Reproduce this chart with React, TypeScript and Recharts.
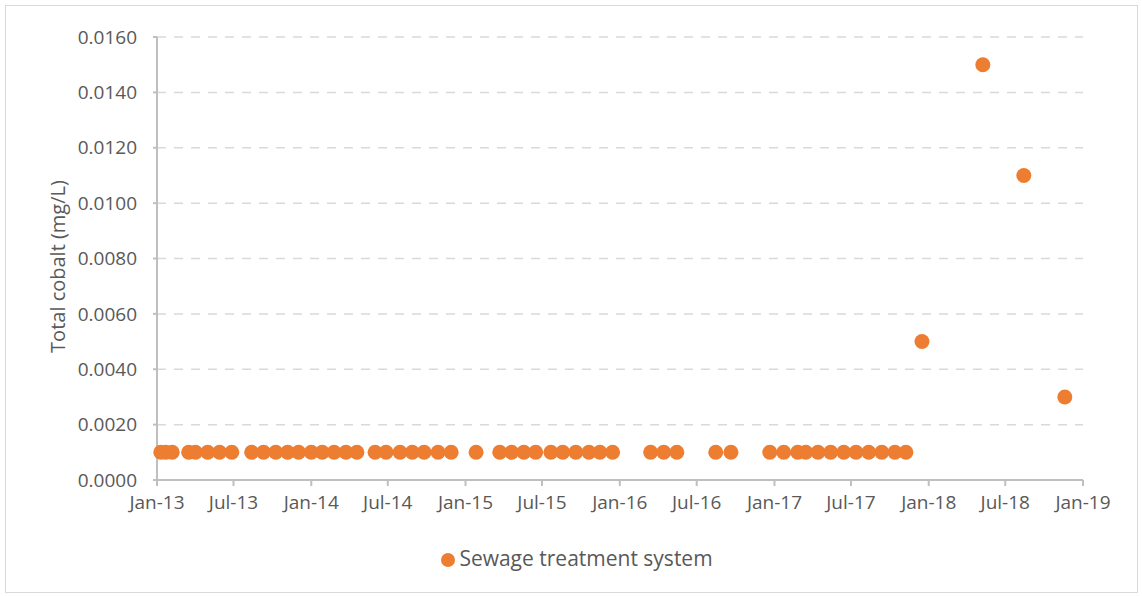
import React from "react"
import {
  ScatterChart,
  Scatter,
  XAxis,
  YAxis,
  CartesianGrid,
  Legend,
  Label,
} from "recharts"

const sampleDates = [
  "2013-01-10", "2013-01-22", "2013-02-06", "2013-03-17", "2013-04-02",
  "2013-05-01", "2013-05-29", "2013-06-27", "2013-08-13", "2013-09-10",
  "2013-10-09", "2013-11-06", "2013-12-02",
  "2014-01-01", "2014-01-27", "2014-02-24", "2014-03-24", "2014-04-19",
  "2014-06-01", "2014-06-27", "2014-07-30", "2014-08-28", "2014-09-25",
  "2014-10-28", "2014-11-28",
  "2015-01-26", "2015-03-23", "2015-04-20", "2015-05-19", "2015-06-16",
  "2015-07-22", "2015-08-19", "2015-09-19", "2015-10-20", "2015-11-15",
  "2015-12-15",
  "2016-03-14", "2016-04-14", "2016-05-15", "2016-08-15", "2016-09-20",
  "2016-12-21",
  "2017-01-23", "2017-02-25", "2017-03-16", "2017-04-14", "2017-05-14",
  "2017-06-14", "2017-07-13", "2017-08-12", "2017-09-12", "2017-10-13",
  "2017-11-08",
  "2017-12-16", "2018-05-09", "2018-08-14", "2018-11-19",
]

const cobalt = [
  0.001, 0.001, 0.001, 0.001, 0.001, 0.001, 0.001, 0.001, 0.001, 0.001,
  0.001, 0.001, 0.001,
  0.001, 0.001, 0.001, 0.001, 0.001, 0.001, 0.001, 0.001, 0.001, 0.001,
  0.001, 0.001,
  0.001, 0.001, 0.001, 0.001, 0.001, 0.001, 0.001, 0.001, 0.001, 0.001,
  0.001,
  0.001, 0.001, 0.001, 0.001, 0.001, 0.001,
  0.001, 0.001, 0.001, 0.001, 0.001, 0.001, 0.001, 0.001, 0.001, 0.001,
  0.001,
  0.005, 0.015, 0.011, 0.003,
]

const xTickDates = [
  "2013-01-01", "2013-07-01", "2014-01-01", "2014-07-01", "2015-01-01",
  "2015-07-01", "2016-01-01", "2016-07-01", "2017-01-01", "2017-07-01",
  "2018-01-01", "2018-07-01", "2019-01-01",
]

const yTicks = [0, 0.002, 0.004, 0.006, 0.008, 0.01, 0.012, 0.014, 0.016]

const MONTHS = ["Jan", "Feb", "Mar", "Apr", "May", "Jun", "Jul", "Aug", "Sep", "Oct", "Nov", "Dec"]

const data = sampleDates.map((d, i) => ({ t: Date.parse(d), value: cobalt[i] }))
const xTicks = xTickDates.map((d) => Date.parse(d))

const fmtDate = (t: number) => {
  const d = new Date(t)
  return MONTHS[d.getUTCMonth()] + "-" + String(d.getUTCFullYear()).slice(2)
}

const textColor = "#595959"
const font = "'Open Sans', sans-serif"

const Dot = (props: any) => <circle cx={props.cx} cy={props.cy} r={7.5} fill="#ED7D31" />

export default function App() {
  return (
    <div style={{ position: "relative", width: 1142, height: 596, background: "#fff", fontFamily: font }}>
      <style>{`body{margin:0}`}</style>
      <div
        style={{
          position: "absolute",
          left: 5,
          top: 5,
          width: 1133,
          height: 588,
          border: "1px solid #d9d9d9",
          boxSizing: "border-box",
        }}
      />
      <ScatterChart width={1142} height={596} margin={{ top: 37, right: 59, left: 0, bottom: 86 }}>
        <CartesianGrid
          horizontal
          vertical={false}
          stroke="#d9d9d9"
          strokeWidth={1.5}
          strokeDasharray="9 8"
        />
        <XAxis
          type="number"
          dataKey="t"
          domain={[xTicks[0], xTicks[xTicks.length - 1]]}
          ticks={xTicks}
          tickFormatter={fmtDate}
          interval={0}
          height={30}
          stroke="#bfbfbf"
          strokeWidth={2}
          tickSize={6}
          tickMargin={10}
          tick={{ fill: textColor, fontSize: 19, fontFamily: font }}
        />
        <YAxis
          type="number"
          dataKey="value"
          domain={[0, 0.016]}
          ticks={yTicks}
          tickFormatter={(v: number) => v.toFixed(4)}
          width={157}
          stroke="#bfbfbf"
          strokeWidth={2}
          tickSize={4}
          tickMargin={16}
          tick={{ fill: textColor, fontSize: 19, fontFamily: font }}
        >
          <Label
            content={({ viewBox }: any) => {
              const cy = viewBox.y + viewBox.height / 2 + 8
              return (
                <text
                  x={57}
                  y={cy}
                  transform={`rotate(-90 57 ${cy})`}
                  textAnchor="middle"
                  dominantBaseline="central"
                  fill={textColor}
                  fontSize={20}
                  fontFamily={font}
                >
                  Total cobalt (mg/L)
                </text>
              )
            }}
          />
        </YAxis>
        <Legend
          verticalAlign="middle"
          align="center"
          iconType="circle"
          iconSize={14}
          wrapperStyle={{ top: 544, left: 11, width: 1142, fontFamily: font, fontSize: 21 }}
          formatter={(v: string) => <span style={{ color: textColor }}>{v}</span>}
        />
        <Scatter
          name="Sewage treatment system"
          data={data}
          fill="#ED7D31"
          shape={Dot}
          isAnimationActive={false}
        />
      </ScatterChart>
    </div>
  )
}
